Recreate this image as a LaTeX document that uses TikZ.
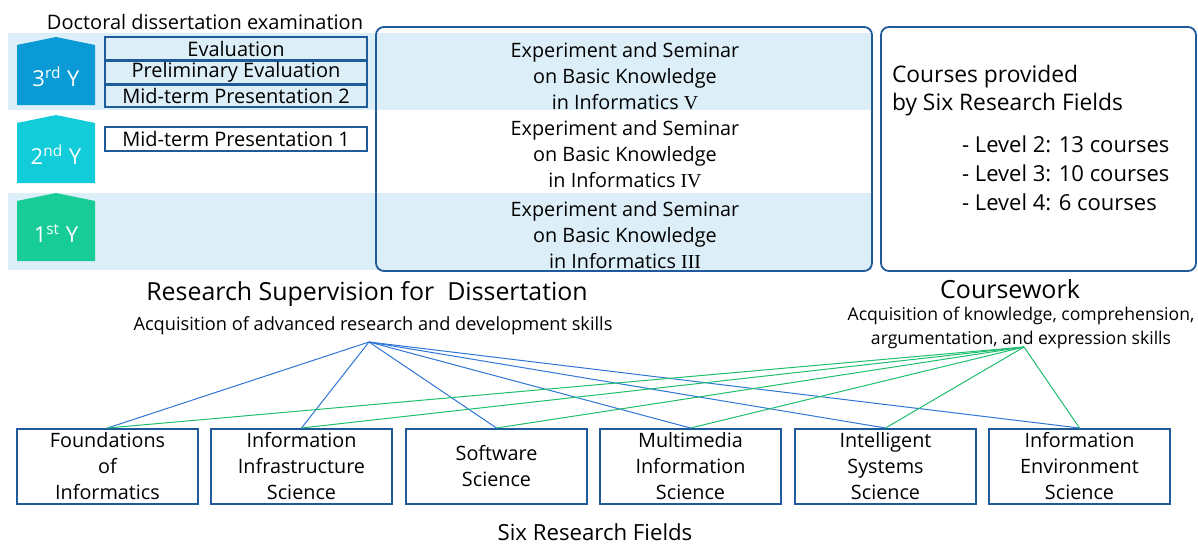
\documentclass[tikz,border=0pt]{standalone}
\usepackage{fontspec}
\setmainfont{Open Sans}
\newfontfamily\romfont{Liberation Serif}
\usetikzlibrary{calc}
\definecolor{band1}{RGB}{220,238,248}
\definecolor{year3}{RGB}{10,155,214}
\definecolor{year2}{RGB}{18,204,218}
\definecolor{year1}{RGB}{23,204,151}
\definecolor{boxblue}{RGB}{31,90,154}
\definecolor{lineblue}{RGB}{46,117,214}
\definecolor{linegreen}{RGB}{30,190,110}

\tikzset{
  evalbox/.style={draw=boxblue, line width=0.8pt, minimum width=131pt, inner sep=0pt, font=\fontsize{10}{11}\selectfont},
  panel/.style={draw=boxblue, line width=0.9pt, rounded corners=4pt, inner sep=0pt},
  field/.style={draw=boxblue, line width=1pt, minimum width=90.5pt, minimum height=37.5pt, inner sep=0pt, align=center, font=\fontsize{9.9}{13}\selectfont},
  seminar/.style={align=center, font=\fontsize{9.9}{13}\selectfont},
  yeartext/.style={text=white, font=\fontsize{11}{13}\selectfont}
}

\begin{document}
\begin{tikzpicture}[x=0.5pt, y=-0.5pt]
\useasboundingbox (0,0) rectangle (1198,546);
% year bands
\fill[band1] (8,33) rectangle (872,110);
\fill[band1] (8,193) rectangle (872,270);
\node (exam) at (205,22) {\fontsize{10}{12}\selectfont Doctoral dissertation examination};
% year markers
\foreach \t/\c/\n/\l in {37/year3/y3/{3\textsuperscript{rd} Y}, 115/year2/y2/{2\textsuperscript{nd} Y}, 193/year1/y1/{1\textsuperscript{st} Y}}{
  \fill[\c] (17,\t+8) -- (56,\t) -- (95,\t+8) -- (95,\t+68) -- (17,\t+68) -- cycle;
  \node[yeartext] (\n) at (56,\t+40) {\l};
}
% examination steps
\node[evalbox, minimum height=11.5pt] (eval) at (236,48.5) {Evaluation};
\node[evalbox, minimum height=11.5pt] (prelim) at (236,72.5) {Preliminary Evaluation};
\node[evalbox, minimum height=11pt] (mid2) at (236,96) {Mid-term Presentation 2};
\node[evalbox, minimum height=12pt] (mid1) at (236,139) {Mid-term Presentation 1};
% seminars
\node[panel, minimum width=248pt, minimum height=122pt] (sempanel) at (624,149) {};
\node[seminar] (sem5) at (625,76) {Experiment and Seminar\\on Basic Knowledge\\ in Informatics {\romfont V}};
\node[seminar] (sem4) at (625,154) {Experiment and Seminar\\on Basic Knowledge\\ in Informatics {\romfont IV}};
\node[seminar] (sem3) at (625,235) {Experiment and Seminar\\on Basic Knowledge\\ in Informatics {\romfont III}};
% coursework panel
\node[panel, minimum width=157.5pt, minimum height=122pt] (coursepanel) at (1038.5,149) {};
\node[anchor=west, align=left, font=\fontsize{11.4}{14}\selectfont] (courses) at (885,91) {Courses provided\\by Six Research Fields};
\node[anchor=west, align=left, font=\fontsize{11}{14.5}\selectfont] (levels) at (955,173) {- Level 2: 13 courses\\- Level 3: 10 courses\\- Level 4: 6 courses};
% headings
\node (supervision) at (367,294) {\fontsize{12.45}{14}\selectfont Research Supervision for\ \ Dissertation};
\node (supskills) at (373,326) {\fontsize{9.1}{11}\selectfont Acquisition of advanced research and development skills};
\node (coursework) at (1010,289) {\fontsize{12.5}{14}\selectfont Coursework};
\node[align=center, font=\fontsize{8.8}{12}\selectfont] (courseskills) at (1021,328) {Acquisition of knowledge, comprehension,\\argumentation, and expression skills};
\coordinate (hubR) at (369,342);
\coordinate (hubC) at (1024,347);
% research fields
\node[field] (f1) at (107.5,466.5) {Foundations\\of\\Informatics};
\node[field] (f2) at (301.5,466.5) {Information\\Infrastructure\\Science};
\node[field] (f3) at (496.5,466.5) {Software\\Science};
\node[field] (f4) at (690.5,466.5) {Multimedia\\Information\\Science};
\node[field] (f5) at (885.5,466.5) {Intelligent\\Systems\\Science};
\node[field] (f6) at (1079.5,466.5) {Information\\Environment\\Science};
\node (sixfields) at (595,532) {\fontsize{11.1}{13}\selectfont Six Research Fields};
\foreach \f in {f1,f2,f3,f4,f5,f6}
  \draw[lineblue, line width=0.5pt] (hubR) -- (\f.north);
\foreach \f in {f1,f2,f3,f4,f5,f6}
  \draw[linegreen, line width=0.5pt] (hubC) -- (\f.north);
\end{tikzpicture}
\end{document}
